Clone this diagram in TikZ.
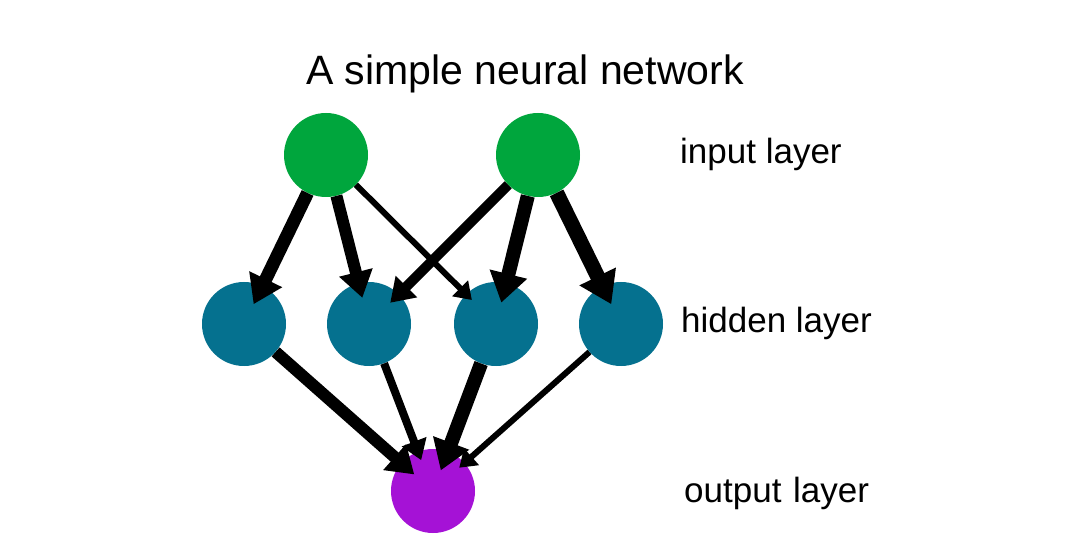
\documentclass[tikz,border=0pt]{standalone}
\usepackage{fontspec}
\setmainfont{Liberation Sans}
\usetikzlibrary{arrows.meta,calc}
\definecolor{ingreen}{RGB}{0,166,61}
\definecolor{hidteal}{RGB}{5,113,143}
\definecolor{outpurple}{RGB}{165,18,214}
\begin{document}
\begin{tikzpicture}[x=1pt,y=-1pt,
  neuron/.style={circle,draw=none,inner sep=0pt,minimum size=84pt},
  edge/.style={draw=black,line cap=butt,-{Triangle[length=7pt 1.6,width=10pt 1.9]}},
  lbl/.style={anchor=base west,inner sep=0pt,font=\fontsize{35}{42}\selectfont},
]
\useasboundingbox[fill=white] (0,0) rectangle (1080,540);
\node[anchor=base,inner sep=0pt,font=\fontsize{41}{49}\selectfont] (title) at (525,85) {A simple neural network};
\node[neuron,fill=ingreen] (i1) at (326,155) {};
\node[neuron,fill=ingreen] (i2) at (538,155) {};
\node[neuron,fill=hidteal] (h1) at (244,324) {};
\node[neuron,fill=hidteal] (h2) at (369,324) {};
\node[neuron,fill=hidteal] (h3) at (496,324) {};
\node[neuron,fill=hidteal] (h4) at (621,324) {};
\node[neuron,fill=outpurple] (o) at (433,491) {};
\node[lbl] (lin) at (680,164) {input layer};
\node[lbl] (lhid) at (681,333) {hidden layer};
\node[lbl] (lout) at (684,502) {output\hspace{2pt} layer};
\draw[edge,line width=13pt] (i1) -- ($(h1.center)!22pt!(i1.center)$);
\draw[edge,line width=12pt] (i1) -- ($(h2.center)!27pt!(i1.center)$);
\draw[edge,line width=6pt] (i1) -- ($(h3.center)!34pt!(i1.center)$);
\draw[edge,line width=10pt] (i2) -- ($(h2.center)!30pt!(i2.center)$);
\draw[edge,line width=14pt] (i2) -- ($(h3.center)!22pt!(i2.center)$);
\draw[edge,line width=15pt] (i2) -- ($(h4.center)!22pt!(i2.center)$);
\draw[edge,line width=12pt] (h1) -- ($(o.center)!25pt!(h1.center)$);
\draw[edge,line width=8pt] (h2) -- ($(o.center)!33pt!(h2.center)$);
\draw[edge,line width=14pt] (h3) -- ($(o.center)!22pt!(h3.center)$);
\draw[edge,line width=6pt] (h4) -- ($(o.center)!35pt!(h4.center)$);
\end{tikzpicture}
\end{document}
